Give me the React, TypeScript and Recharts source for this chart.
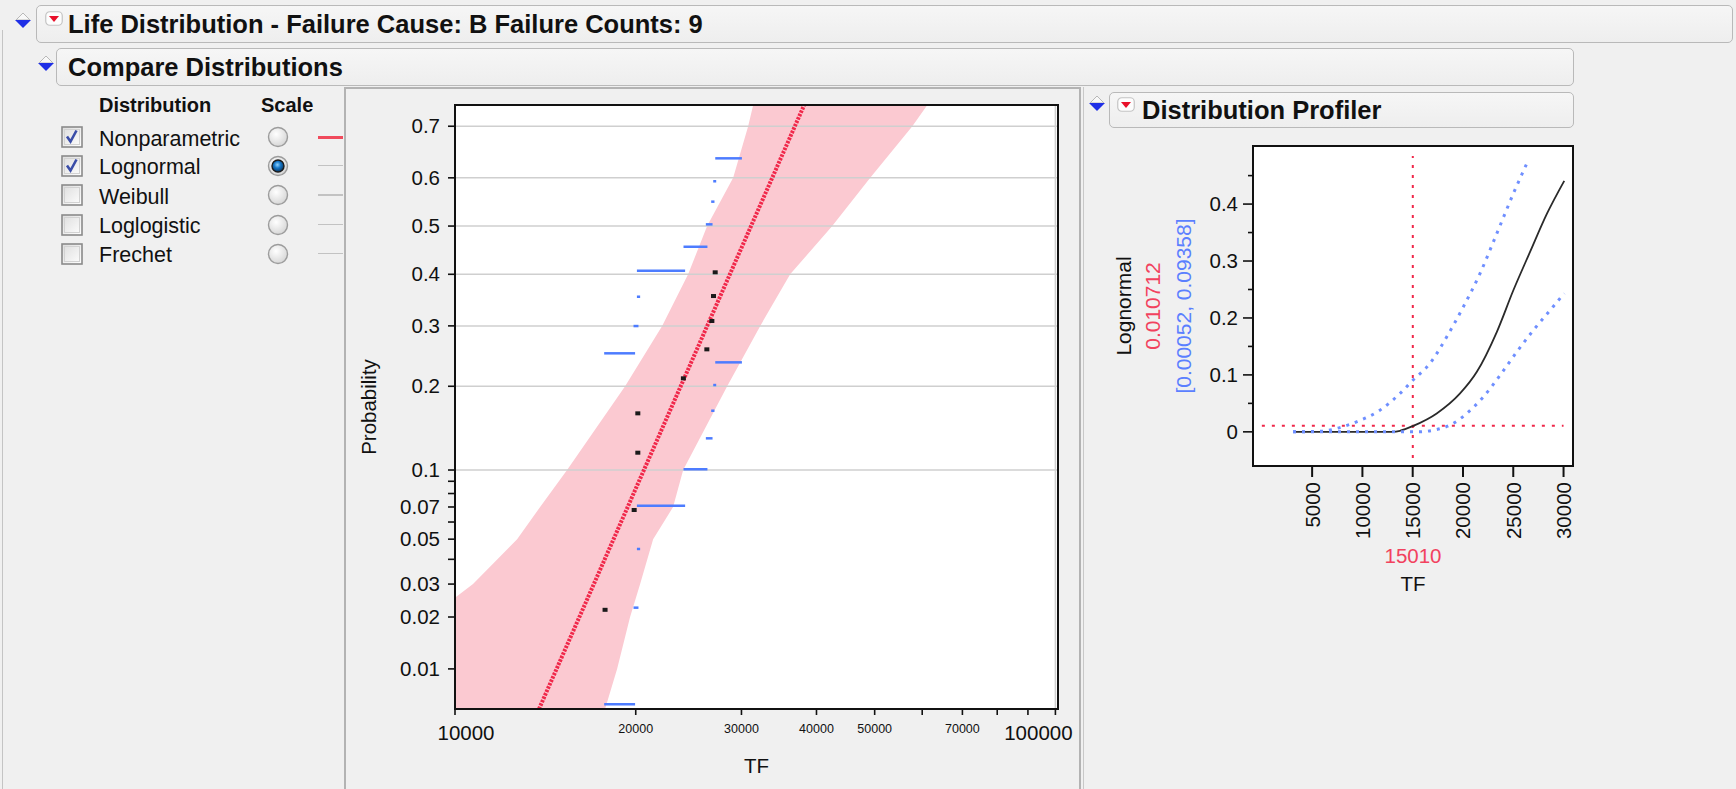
import React from "react";
import {
  Area,
  CartesianGrid,
  ComposedChart,
  Label,
  Line,
  ReferenceLine,
  Scatter,
  XAxis,
  YAxis,
} from "recharts";

const FONT = '"Liberation Sans", Arial, sans-serif';
const BG = "#f0f0f0";
const PINK = "#fbc9d1";
const RED = "#f0284a";
const SEG_BLUE = "#4d7cff";
const DOT_BLUE = "#6f8fff";
const TEXT_RED = "#f2425e";
const TEXT_BLUE = "#5b7fff";

// ---- probability plot (TF on log axis, probability on normal scale) ----
const TF_MIN = 10000;
const TF_MAX = 101000;
const PROB_MIN = 0.00559;
const PROB_MAX = 0.7376;

const TF_TICKS = [10000, 20000, 30000, 40000, 50000, 60000, 70000, 80000, 90000, 100000];
const TF_BIG_LABELS = [10000, 100000];
const TF_SMALL_LABELS = [20000, 30000, 40000, 50000, 70000];
const TF_GRID = [100000];

const PROB_TICKS = [0.01, 0.02, 0.03, 0.04, 0.05, 0.06, 0.07, 0.08, 0.09, 0.1, 0.2, 0.3, 0.4, 0.5, 0.6, 0.7];
const PROB_LABELED = [0.01, 0.02, 0.03, 0.05, 0.07, 0.1, 0.2, 0.3, 0.4, 0.5, 0.6, 0.7];
const PROB_GRID = [0.1, 0.2, 0.3, 0.4, 0.5, 0.6, 0.7];

// confidence band of the lognormal fit
const BAND_PROB = [0.00559, 0.01, 0.02, 0.03, 0.05, 0.07, 0.1, 0.2, 0.3, 0.4, 0.5, 0.6, 0.7, 0.7376];
const BAND_LEFT_TF = [6550, 7500, 9085, 10715, 12690, 13860, 15370, 19200, 22130, 24450, 26300, 29060, 30780, 31380];
const BAND_RIGHT_TF = [17780, 18620, 19570, 20340, 21380, 23080, 23990, 28400, 32240, 36160, 42490, 49160, 57770, 61190];

// fitted lognormal line, where it meets the frame
const FIT_TF = [13800, 38160];
const FIT_PROB = [0.00559, 0.7376];

// nonparametric estimates
const NP_TF = [17780, 19880, 20160, 20160, 24010, 26270, 26780, 26950, 27125];
const NP_PROB = [0.0219, 0.0679, 0.1169, 0.1626, 0.2119, 0.2586, 0.309, 0.3566, 0.404];

// nonparametric interval steps
const NP_START = [17720, 19830, 20090, 20090, 24020, 26170, 26710, 26920, 27130];
const NP_END = [19950, 20210, 20340, 24170, 26330, 26850, 27050, 27230, 30050];
const NP_LOWER = [0.006, 0.0225, 0.0449, 0.0709, 0.1007, 0.1324, 0.166, 0.2018, 0.237];
const NP_UPPER = [0.2519, 0.2997, 0.3552, 0.4072, 0.4567, 0.5036, 0.551, 0.593, 0.639];

// ---- distribution profiler ----
const PROF_X_DOMAIN = [-880, 30940];
const PROF_Y_DOMAIN = [-0.06, 0.502];
const PROF_X_TICKS = [5000, 10000, 15000, 20000, 25000, 30000];
const PROF_Y_TICKS = [0, 0.05, 0.1, 0.15, 0.2, 0.25, 0.3, 0.35, 0.4, 0.45];
const PROF_Y_LABELED = [0, 0.1, 0.2, 0.3, 0.4];

const PROF_CDF_TF = [3100, 13070, 13770, 15060, 17390, 19710, 21380, 23370, 25020, 26680, 28350, 30070];
const PROF_CDF_P = [0, 0, 0.002, 0.0105, 0.0323, 0.0674, 0.1054, 0.1757, 0.2491, 0.3164, 0.3831, 0.4408];
const PROF_UP_TF = [3100, 6000, 7430, 9420, 11740, 13740, 15060, 16720, 18390, 20040, 21700, 23370, 25020, 26510];
const PROF_UP_P = [0, 0.001, 0.006, 0.0176, 0.038, 0.0674, 0.0914, 0.1202, 0.167, 0.2197, 0.2783, 0.3486, 0.4189, 0.4776];
const PROF_LO_TF = [3100, 15440, 17100, 18720, 20380, 22030, 23700, 25360, 27010, 28680, 30070];
const PROF_LO_P = [0, 0, 0.003, 0.0118, 0.0323, 0.0615, 0.0996, 0.1406, 0.1787, 0.2139, 0.2432];

const PROFILE_TF = 15010;
const PROFILE_PROB = 0.010712;
const PROFILE_CI = "[0.00052, 0.09358]";

const DISTRIBUTIONS = ["Nonparametric", "Lognormal", "Weibull", "Loglogistic", "Frechet"];
const CHECKED = [true, true, false, false, false];
const SCALE_SELECTED = 1;

// inverse standard normal cdf (Acklam), used for the probability axis
function qnorm(p: number): number {
  const a = [-39.69683028665376, 220.9460984245205, -275.9285104469687, 138.357751867269, -30.66479806614716, 2.506628277459239];
  const b = [-54.47609879822406, 161.5858368580409, -155.6989798598866, 66.80131188771972, -13.28068155288572];
  const c = [-0.007784894002430293, -0.3223964580411365, -2.400758277161838, -2.549732539343734, 4.374664141464968, 2.938163982698783];
  const d = [0.007784695709041462, 0.3224671290700398, 2.445134137142996, 3.754408661907416];
  const lo = 0.02425;
  if (p < lo) {
    const q = Math.sqrt(-2 * Math.log(p));
    return (((((c[0] * q + c[1]) * q + c[2]) * q + c[3]) * q + c[4]) * q + c[5]) /
      ((((d[0] * q + d[1]) * q + d[2]) * q + d[3]) * q + 1);
  }
  if (p <= 1 - lo) {
    const q = p - 0.5;
    const r = q * q;
    return ((((((a[0] * r + a[1]) * r + a[2]) * r + a[3]) * r + a[4]) * r + a[5]) * q) /
      (((((b[0] * r + b[1]) * r + b[2]) * r + b[3]) * r + b[4]) * r + 1);
  }
  const q = Math.sqrt(-2 * Math.log(1 - p));
  return -(((((c[0] * q + c[1]) * q + c[2]) * q + c[3]) * q + c[4]) * q + c[5]) /
    ((((d[0] * q + d[1]) * q + d[2]) * q + d[3]) * q + 1);
}

const Z_MIN = qnorm(PROB_MIN);
const Z_MAX = qnorm(PROB_MAX);

const bandRows = BAND_PROB.map((p, i) => ({ z: qnorm(p), range: [BAND_LEFT_TF[i], BAND_RIGHT_TF[i]] }));
const fitRows = FIT_TF.map((t, i) => ({ t, z: qnorm(FIT_PROB[i]) }));
const npRows = NP_TF.map((t, i) => ({ t, z: qnorm(NP_PROB[i]) }));

const cdfRows = PROF_CDF_TF.map((x, i) => ({ x, y: PROF_CDF_P[i] }));
const upRows = PROF_UP_TF.map((x, i) => ({ x, y: PROF_UP_P[i] }));
const loRows = PROF_LO_TF.map((x, i) => ({ x, y: PROF_LO_P[i] }));

// main chart box on the page and its plot margins
const MAIN = { left: 345, top: 88, width: 735, height: 701 };
const PLOT_M = { top: 17, right: 22, left: 110, bottom: 80 };
const PLOT_W = MAIN.width - PLOT_M.left - PLOT_M.right;
const PLOT_H = MAIN.height - PLOT_M.top - PLOT_M.bottom;
const PROF = { left: 1085, top: 135, width: 520, height: 654 };

function TfTick(props: any) {
  const { x, y, payload } = props;
  const v = payload.value;
  if (TF_BIG_LABELS.includes(v)) {
    const shift = v === TF_MIN ? 11 : -17;
    return (
      <text x={x + shift} y={y} dy={25} textAnchor="middle" fontSize={20.5} fontFamily={FONT} fill="#111">
        {v}
      </text>
    );
  }
  if (TF_SMALL_LABELS.includes(v)) {
    return (
      <text x={x} y={y} dy={18} textAnchor="middle" fontSize={12.5} fontFamily={FONT} fill="#111">
        {v}
      </text>
    );
  }
  return <g />;
}

function ProbTick(props: any) {
  const { x, y, payload } = props;
  const p = PROB_TICKS.find((q) => Math.abs(qnorm(q) - payload.value) < 1e-9);
  const label = p !== undefined && PROB_LABELED.includes(p) ? String(p) : "";
  return (
    <text x={x - 8} y={y} dy={7} textAnchor="end" fontSize={20.5} fontFamily={FONT} fill="#111">
      {label}
    </text>
  );
}

function ProfXTick(props: any) {
  const { x, y, payload } = props;
  const tx = x;
  const ty = y + 5;
  return (
    <text
      x={tx}
      y={ty}
      transform={`rotate(-90, ${tx}, ${ty})`}
      textAnchor="end"
      dominantBaseline="central"
      fontSize={20.5}
      fontFamily={FONT}
      fill="#111"
    >
      {payload.value}
    </text>
  );
}

function ProfYTick(props: any) {
  const { x, y, payload } = props;
  const v = payload.value;
  const major = PROF_Y_LABELED.some((q) => Math.abs(q - v) < 1e-9);
  const axisX = x + 10;
  return (
    <g>
      <line x1={major ? axisX - 10 : axisX - 5} x2={axisX} y1={y} y2={y} stroke="#111" strokeWidth={1.6} />
      {major && (
        <text x={axisX - 15} y={y} dy={7} textAnchor="end" fontSize={20.5} fontFamily={FONT} fill="#111">
          {String(v)}
        </text>
      )}
    </g>
  );
}

// grid positions for the probability plot, same mapping as the axes
function gridY(gp: any) {
  const top = gp?.offset?.top ?? PLOT_M.top;
  const h = gp?.offset?.height ?? PLOT_H;
  return PROB_GRID.map((p) => top + ((Z_MAX - qnorm(p)) / (Z_MAX - Z_MIN)) * h);
}

function gridX(gp: any) {
  const left = gp?.offset?.left ?? PLOT_M.left;
  const w = gp?.offset?.width ?? PLOT_W;
  return TF_GRID.map((t) => left + (Math.log(t / TF_MIN) / Math.log(TF_MAX / TF_MIN)) * w);
}

function BandChart() {
  return (
    <ComposedChart layout="vertical" width={MAIN.width} height={MAIN.height} data={bandRows} margin={PLOT_M}>
      <XAxis type="number" scale="log" domain={[TF_MIN, TF_MAX]} allowDataOverflow hide />
      <YAxis type="number" dataKey="z" domain={[Z_MIN, Z_MAX]} allowDataOverflow reversed hide />
      <Area dataKey="range" fill={PINK} fillOpacity={1} stroke="none" isAnimationActive={false} />
    </ComposedChart>
  );
}

function ProbabilityChart() {
  return (
    <ComposedChart
      width={MAIN.width}
      height={MAIN.height}
      margin={{ top: PLOT_M.top, right: PLOT_M.right, left: 18, bottom: 10 }}
    >
      <CartesianGrid
        stroke="#cfcfcf"
        strokeWidth={1.5}
        horizontalCoordinatesGenerator={gridY}
        verticalCoordinatesGenerator={gridX}
      />
      <XAxis
        type="number"
        dataKey="t"
        scale="log"
        domain={[TF_MIN, TF_MAX]}
        allowDataOverflow
        ticks={TF_TICKS}
        interval={0}
        tick={TfTick}
        tickSize={6}
        tickMargin={0}
        height={70}
        axisLine={false}
        tickLine={{ stroke: "#111", strokeWidth: 1.6 }}
      >
        <Label
          content={(lp: any) => {
            const vb = lp.viewBox;
            return (
              <text
                x={vb.x + vb.width / 2}
                y={vb.y + 56}
                textAnchor="middle"
                dominantBaseline="central"
                fontSize={20.5}
                fontFamily={FONT}
                fill="#111"
              >
                TF
              </text>
            );
          }}
        />
      </XAxis>
      <YAxis
        type="number"
        dataKey="z"
        domain={[Z_MIN, Z_MAX]}
        allowDataOverflow
        ticks={PROB_TICKS.map(qnorm)}
        interval={0}
        tick={ProbTick}
        tickSize={7}
        tickMargin={0}
        width={92}
        axisLine={false}
        tickLine={{ stroke: "#111", strokeWidth: 1.6 }}
      >
        <Label
          content={(lp: any) => {
            const vb = lp.viewBox;
            const cx = vb.x + 5;
            const cy = vb.y + vb.height / 2;
            return (
              <text
                x={cx}
                y={cy}
                transform={`rotate(-90, ${cx}, ${cy})`}
                textAnchor="middle"
                dominantBaseline="central"
                fontSize={20.5}
                fontFamily={FONT}
                fill="#111"
              >
                Probability
              </text>
            );
          }}
        />
      </YAxis>
      {NP_START.map((s, i) => (
        <ReferenceLine
          key={`lo${i}`}
          segment={[
            { x: s, y: qnorm(NP_LOWER[i]) },
            { x: NP_END[i], y: qnorm(NP_LOWER[i]) },
          ]}
          stroke={SEG_BLUE}
          strokeWidth={2.5}
        />
      ))}
      {NP_START.map((s, i) => (
        <ReferenceLine
          key={`up${i}`}
          segment={[
            { x: s, y: qnorm(NP_UPPER[i]) },
            { x: NP_END[i], y: qnorm(NP_UPPER[i]) },
          ]}
          stroke={SEG_BLUE}
          strokeWidth={2.5}
        />
      ))}
      <Scatter
        data={fitRows}
        line={{ stroke: RED, strokeWidth: 4, strokeDasharray: "2.5 1.2" }}
        shape={() => <g />}
        isAnimationActive={false}
      />
      <Scatter
        data={npRows}
        shape={(sp: any) => <rect x={sp.cx - 2.5} y={sp.cy - 2} width={5} height={4} fill="#1a1a1a" />}
        isAnimationActive={false}
      />
    </ComposedChart>
  );
}

function ProfilerChart() {
  return (
    <ComposedChart width={PROF.width} height={PROF.height} margin={{ top: 11, right: 32, left: 0, bottom: 193 }}>
      <XAxis
        type="number"
        dataKey="x"
        domain={PROF_X_DOMAIN}
        allowDataOverflow
        ticks={PROF_X_TICKS}
        interval={0}
        tick={ProfXTick}
        tickSize={11}
        tickMargin={0}
        height={130}
        axisLine={false}
        tickLine={{ stroke: "#111", strokeWidth: 2 }}
      >
        <Label
          content={(lp: any) => {
            const vb = lp.viewBox;
            const cx = vb.x + vb.width / 2;
            return (
              <g fontFamily={FONT} fontSize={20.5} textAnchor="middle">
                <text x={cx} y={vb.y + 89} dominantBaseline="central" fill={TEXT_RED}>
                  {PROFILE_TF}
                </text>
                <text x={cx} y={vb.y + 117} dominantBaseline="central" fill="#111">
                  TF
                </text>
              </g>
            );
          }}
        />
      </XAxis>
      <YAxis
        type="number"
        domain={PROF_Y_DOMAIN}
        allowDataOverflow
        ticks={PROF_Y_TICKS}
        interval={0}
        tick={ProfYTick}
        tickSize={10}
        tickMargin={0}
        tickLine={false}
        axisLine={false}
        width={168}
      >
        <Label
          content={(lp: any) => {
            const vb = lp.viewBox;
            const cy = vb.y + vb.height / 2;
            const items = [
              { dx: 38, text: "Lognormal", fill: "#111" },
              { dx: 67, text: String(PROFILE_PROB), fill: TEXT_RED },
              { dx: 98, text: PROFILE_CI, fill: TEXT_BLUE },
            ];
            return (
              <g fontFamily={FONT} fontSize={21}>
                {items.map((it) => (
                  <text
                    key={it.text}
                    x={vb.x + it.dx}
                    y={cy}
                    transform={`rotate(-90, ${vb.x + it.dx}, ${cy})`}
                    textAnchor="middle"
                    dominantBaseline="central"
                    fill={it.fill}
                  >
                    {it.text}
                  </text>
                ))}
              </g>
            );
          }}
        />
      </YAxis>
      <ReferenceLine
        segment={[
          { x: 0, y: PROFILE_PROB },
          { x: 30000, y: PROFILE_PROB },
        ]}
        stroke={RED}
        strokeWidth={2}
        strokeDasharray="3 7"
      />
      <ReferenceLine
        segment={[
          { x: PROFILE_TF, y: -0.046 },
          { x: PROFILE_TF, y: 0.4845 },
        ]}
        stroke={RED}
        strokeWidth={2}
        strokeDasharray="3 7"
      />
      <Line data={cdfRows} dataKey="y" type="monotone" stroke="#2a2a2a" strokeWidth={1.8} dot={false} isAnimationActive={false} />
      <Line data={upRows} dataKey="y" type="monotone" stroke={DOT_BLUE} strokeWidth={3} strokeDasharray="3 6" dot={false} isAnimationActive={false} />
      <Line data={loRows} dataKey="y" type="monotone" stroke={DOT_BLUE} strokeWidth={3} strokeDasharray="3 6" dot={false} isAnimationActive={false} />
    </ComposedChart>
  );
}

function Disclosure({ x, y }: { x: number; y: number }) {
  return (
    <svg style={{ position: "absolute", left: x, top: y }} width={18} height={17}>
      <polygon points="9,1 2,8 16,8" fill="#f8f8f8" stroke="#b8b8b8" strokeWidth={1} />
      <polygon points="1,8 17,8 9,16" fill="#1f2fe6" />
    </svg>
  );
}

function MenuIcon({ x, y }: { x: number; y: number }) {
  return (
    <svg style={{ position: "absolute", left: x, top: y }} width={18} height={15}>
      <rect x={0.75} y={0.75} width={16.5} height={13.5} rx={4} fill="#fdfdfd" stroke="#c4c4c4" strokeWidth={1.2} />
      <polygon points="4,5 14,5 9,11" fill="#e8102a" />
    </svg>
  );
}

function Txt(props: { x: number; cy: number; size: number; bold?: boolean; children: React.ReactNode }) {
  const h = Math.round(props.size * 1.3);
  return (
    <div
      style={{
        position: "absolute",
        left: props.x,
        top: props.cy - h / 2,
        height: h,
        lineHeight: `${h}px`,
        fontSize: props.size,
        fontWeight: props.bold ? 700 : 400,
        fontFamily: FONT,
        color: "#111",
        whiteSpace: "nowrap",
      }}
    >
      {props.children}
    </div>
  );
}

function HeaderBox(props: { left: number; top: number; width: number; height: number }) {
  return (
    <div
      style={{
        position: "absolute",
        left: props.left,
        top: props.top,
        width: props.width,
        height: props.height,
        boxSizing: "border-box",
        border: "1.5px solid #b9b9b9",
        borderRadius: 5,
        background: "linear-gradient(#f6f6f6, #eeeeee)",
      }}
    />
  );
}

function CheckBox({ x, cy, checked }: { x: number; cy: number; checked: boolean }) {
  return (
    <svg style={{ position: "absolute", left: x, top: cy - 11 }} width={22} height={22}>
      <defs>
        <linearGradient id="cbfill" x1="0" y1="0" x2="1" y2="1">
          <stop offset="0%" stopColor="#dcdcdc" />
          <stop offset="100%" stopColor="#ffffff" />
        </linearGradient>
      </defs>
      <rect x={1} y={1} width={20} height={20} fill="url(#cbfill)" stroke="#8a8a8a" strokeWidth={1.6} />
      <rect x={3.5} y={3.5} width={15} height={15} fill="none" stroke="#d2d2d2" strokeWidth={1} />
      {checked && <path d="M6 10.5 L9.5 15.5 L15.5 4.5" fill="none" stroke="#3b4ea8" strokeWidth={2.6} />}
    </svg>
  );
}

function Radio({ cx, cy, selected }: { cx: number; cy: number; selected: boolean }) {
  return (
    <svg style={{ position: "absolute", left: cx - 11, top: cy - 11 }} width={22} height={22}>
      <defs>
        <radialGradient id="rdfill" cx="40%" cy="35%" r="70%">
          <stop offset="0%" stopColor="#ffffff" />
          <stop offset="100%" stopColor="#d4d4d4" />
        </radialGradient>
        <radialGradient id="rdsel" cx="45%" cy="40%" r="60%">
          <stop offset="0%" stopColor="#8fd3ff" />
          <stop offset="45%" stopColor="#1677c8" />
          <stop offset="100%" stopColor="#08355f" />
        </radialGradient>
      </defs>
      <circle cx={11} cy={11} r={9.5} fill="url(#rdfill)" stroke="#9c9c9c" strokeWidth={1.4} />
      {selected && <circle cx={11} cy={11} r={6} fill="url(#rdsel)" stroke="#1b1b1b" strokeWidth={1.4} />}
    </svg>
  );
}

function abs(left: number, top: number, width: number, height: number, style: React.CSSProperties = {}) {
  return <div style={{ position: "absolute", left, top, width, height, ...style }} />;
}

export default function App() {
  const rowCy = [138.5, 167, 196.5, 226, 255];
  return (
    <div
      style={{
        position: "absolute",
        left: 0,
        top: 0,
        width: 1736,
        height: 789,
        overflow: "hidden",
        background: BG,
        fontFamily: FONT,
      }}
    >
      {abs(2, 30, 1, 759, { background: "#c4c4c4" })}

      {/* outline headers */}
      <HeaderBox left={36} top={5} width={1697} height={38} />
      <Disclosure x={14} y={12} />
      <MenuIcon x={45} y={11} />
      <Txt x={68} cy={24} size={25.5} bold>
        Life Distribution - Failure Cause: B Failure Counts: 9
      </Txt>

      <HeaderBox left={56} top={48} width={1518} height={38} />
      <Disclosure x={37} y={55} />
      <Txt x={68} cy={67} size={25.5} bold>
        Compare Distributions
      </Txt>

      {/* distribution chooser */}
      <Txt x={99} cy={105} size={20} bold>
        Distribution
      </Txt>
      <Txt x={261} cy={105} size={20} bold>
        Scale
      </Txt>
      {DISTRIBUTIONS.map((name, i) => (
        <React.Fragment key={name}>
          <CheckBox x={61} cy={rowCy[i] - 1.5} checked={CHECKED[i]} />
          <Txt x={99} cy={rowCy[i]} size={21.5}>
            {name}
          </Txt>
          <Radio cx={278} cy={rowCy[i] - 1.5} selected={i === SCALE_SELECTED} />
          {abs(318, rowCy[i] - 2.5, 25, i === 0 ? 2.5 : 1.5, { background: i === 0 ? "#f04a5c" : "#c2c2c2" })}
        </React.Fragment>
      ))}

      {/* probability plot */}
      {abs(344, 87, 737, 720, { boxSizing: "border-box", border: "2px solid #b3b3b3" })}
      {abs(1083, 87, 1, 702, { background: "#c8c8c8" })}
      {abs(MAIN.left + PLOT_M.left, MAIN.top + PLOT_M.top, PLOT_W, PLOT_H, { background: "#fff" })}
      <div style={{ position: "absolute", left: MAIN.left, top: MAIN.top }}>
        <BandChart />
      </div>
      <div style={{ position: "absolute", left: MAIN.left, top: MAIN.top }}>
        <ProbabilityChart />
      </div>
      {abs(454, 104, 605, 606, { boxSizing: "border-box", border: "2px solid #111", pointerEvents: "none" })}

      {/* distribution profiler */}
      <HeaderBox left={1109} top={92} width={465} height={36} />
      <Disclosure x={1088} y={95} />
      <MenuIcon x={1117} y={97} />
      <Txt x={1142} cy={110} size={25.5} bold>
        Distribution Profiler
      </Txt>
      {abs(1253, 146, 320, 320, { background: "#fff" })}
      <div style={{ position: "absolute", left: PROF.left, top: PROF.top }}>
        <ProfilerChart />
      </div>
      {abs(1252, 145, 322, 322, { boxSizing: "border-box", border: "2px solid #111", pointerEvents: "none" })}
    </div>
  );
}
